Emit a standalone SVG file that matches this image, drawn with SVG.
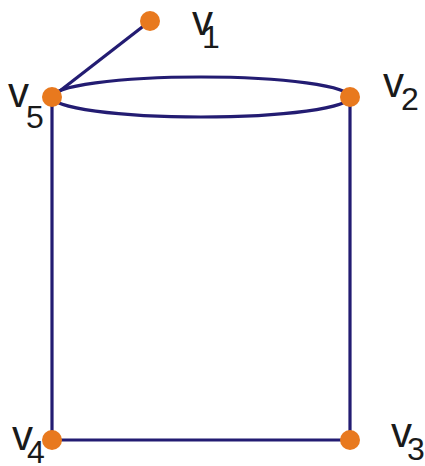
<svg xmlns="http://www.w3.org/2000/svg" width="425" height="466" viewBox="0 0 425 466">
<style>
.e{stroke:#231c72;stroke-width:3.2;fill:none}
.n{fill:#e8791e}
.v{font-family:"Liberation Sans",Arial,sans-serif;font-size:42px;fill:#1a1a1a}
.s{font-family:"Liberation Sans",Arial,sans-serif;font-size:32px;fill:#1a1a1a}
</style>
<rect width="425" height="466" fill="#fff"/>
<g id="connectors">
<line class="e" x1="150" y1="21" x2="52" y2="97"/>
<ellipse class="e" cx="201" cy="97" rx="149" ry="20"/>
<line class="e" x1="52" y1="97" x2="52" y2="440"/>
<line class="e" x1="350" y1="97" x2="350" y2="440"/>
<line class="e" x1="52" y1="440" x2="350" y2="440"/>
</g>
<g id="v1"><circle class="n" cx="150" cy="21" r="10"/><text class="v" x="192" y="35">v</text><text class="s" x="202" y="48">1</text></g>
<g id="v2"><circle class="n" cx="350" cy="97" r="10"/><text class="v" x="383" y="97">v</text><text class="s" x="401" y="110">2</text></g>
<g id="v3"><circle class="n" cx="350" cy="440" r="10"/><text class="v" x="391" y="447">v</text><text class="s" x="407" y="460">3</text></g>
<g id="v4"><circle class="n" cx="52" cy="440" r="10"/><text class="v" x="12" y="450">v</text><text class="s" x="27" y="463">4</text></g>
<g id="v5"><circle class="n" cx="52" cy="97" r="10"/><text class="v" x="8" y="107">v</text><text class="s" x="26" y="128">5</text></g>
</svg>
